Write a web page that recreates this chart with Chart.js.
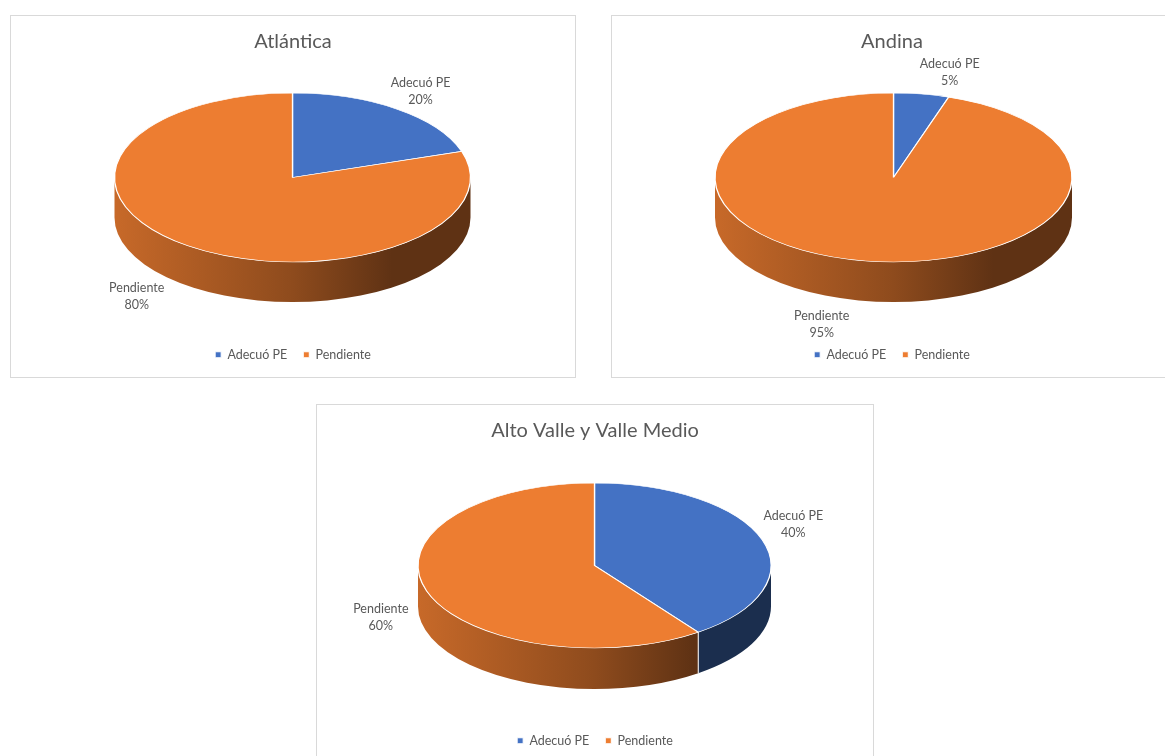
<!DOCTYPE html>
<html>
<head>
<meta charset="utf-8">
<script src="https://cdn.jsdelivr.net/npm/chart.js@4.4.0/dist/chart.umd.min.js"></script>
<style>
  html, body { margin: 0; padding: 0; background: #fff; overflow: hidden; width: 1165px; height: 756px; }
  .box { position: absolute; border: 1px solid #d9d9d9; background: #fff; }
  .box canvas { display: block; }
</style>
</head>
<body>
<div class="box" style="left:10px;top:15px;"><canvas id="chartAtlantica" width="564" height="361"></canvas></div>
<div class="box" style="left:611px;top:15px;"><canvas id="chartAndina" width="560" height="361"></canvas></div>
<div class="box" style="left:316px;top:404px;"><canvas id="chartAltoValle" width="556" height="360"></canvas></div>

<script>
const categories      = ['Adecuó PE', 'Pendiente'];
const sliceColors     = ['#4472C4', '#ED7D31'];
const atlanticaValues = [20, 80];
const andinaValues    = [5, 95];
const altoValleValues = [40, 60];

const FONT = 'Lato, "Open Sans", sans-serif';
const GREY = '#595959';

function shade(hex, f) {
  const n = parseInt(hex.slice(1), 16);
  const r = Math.round(((n >> 16) & 255) * f);
  const g = Math.round(((n >> 8) & 255) * f);
  const b = Math.round((n & 255) * f);
  return `rgb(${r},${g},${b})`;
}

// fake 3D: squash the pie into an ellipse and draw a side wall under the front half
const pie3d = {
  id: 'pie3d',
  beforeDatasetsDraw(chart, args, opts) {
    const ctx  = chart.ctx;
    const arcs = chart.getDatasetMeta(0).data;
    chart._pie3dSaved = false;
    if (!arcs.length) return;
    const { cx, cy, rx, ry, depth } = opts;
    const colors = chart.data.datasets[0].backgroundColor;

    arcs.forEach((arc, i) => {
      const a0 = Math.max(arc.startAngle, 0);
      const a1 = Math.min(arc.endAngle, Math.PI);
      if (a1 <= a0) return;
      ctx.save();
      ctx.beginPath();
      ctx.ellipse(cx, cy, rx, ry, 0, a0, a1);
      ctx.ellipse(cx, cy + depth, rx, ry, 0, a1, a0, true);
      ctx.closePath();
      const g = ctx.createLinearGradient(cx - rx, 0, cx + rx, 0);
      g.addColorStop(0,    shade(colors[i], 0.84));
      g.addColorStop(0.5,  shade(colors[i], 0.6));
      g.addColorStop(0.78, shade(colors[i], 0.4));
      g.addColorStop(1,    shade(colors[i], 0.4));
      ctx.fillStyle = g;
      ctx.fill();
      ctx.restore();
    });

    // white seams where slices meet on the wall
    arcs.forEach(arc => {
      const a = arc.startAngle;
      if (a > 0 && a < Math.PI) {
        const x = cx + rx * Math.cos(a), y = cy + ry * Math.sin(a);
        ctx.save();
        ctx.strokeStyle = '#fff';
        ctx.lineWidth = 1;
        ctx.beginPath();
        ctx.moveTo(x, y);
        ctx.lineTo(x, y + depth);
        ctx.stroke();
        ctx.restore();
      }
    });

    const R = arcs[0].outerRadius, x0 = arcs[0].x, y0 = arcs[0].y;
    ctx.save();
    ctx.translate(cx, cy);
    ctx.scale(rx / R, ry / R);
    ctx.translate(-x0, -y0);
    chart._pie3dSaved = true;
  },
  afterDatasetsDraw(chart) {
    if (chart._pie3dSaved) chart.ctx.restore();
    chart._pie3dSaved = false;
  }
};

const sliceLabels = {
  id: 'sliceLabels',
  afterDraw(chart, args, opts) {
    const ctx  = chart.ctx;
    const arcs = chart.getDatasetMeta(0).data;
    const { cx, cy, rx, ry, depth } = chart.options.plugins.pie3d;
    const values = chart.data.datasets[0].data;
    const total  = values.reduce((s, v) => s + v, 0);
    ctx.save();
    ctx.font = `12.5px ${FONT}`;
    ctx.fillStyle = GREY;
    ctx.textAlign = 'center';
    ctx.textBaseline = 'middle';
    arcs.forEach((arc, i) => {
      const mid = (arc.startAngle + arc.endAngle) / 2;
      const sx = Math.cos(mid), sy = Math.sin(mid);
      const name = chart.data.labels[i];
      const pct  = Math.round(values[i] / total * 100) + '%';
      const w = Math.max(ctx.measureText(name).width, ctx.measureText(pct).width);
      const h = 32;
      const ax = cx + (rx + 10) * sx;
      const ay = cy + (ry + 10) * sy + (sy > 0 ? depth : 0);
      const nudge = opts.nudge[i] || [0, 0];
      const tx = ax + sx * w / 2 + nudge[0];
      const ty = ay + sy * h / 2 + nudge[1];
      ctx.fillText(name, tx, ty - 8.5);
      ctx.fillText(pct,  tx, ty + 8.5);
    });
    ctx.restore();
  }
};

function makePie(id, title, values, geom, nudge, bottomPad) {
  return new Chart(document.getElementById(id), {
    type: 'pie',
    data: {
      labels: categories,
      datasets: [{
        data: values,
        backgroundColor: sliceColors,
        borderColor: '#ffffff',
        borderWidth: 1,
        clip: false,
      }]
    },
    options: {
      responsive: false,
      animation: false,
      events: [],
      layout: { padding: { top: 0, bottom: bottomPad } },
      plugins: {
        title: {
          display: true,
          text: title,
          color: GREY,
          font: { family: FONT, size: 20, weight: 'normal' },
          padding: { top: 14, bottom: 10 }
        },
        legend: {
          position: 'bottom',
          labels: {
            color: GREY,
            font: { family: FONT, size: 12.5 },
            boxWidth: 6,
            boxHeight: 6,
            padding: 16
          }
        },
        tooltip: { enabled: false },
        pie3d: geom,
        sliceLabels: { nudge }
      }
    },
    plugins: [pie3d, sliceLabels]
  });
}

makePie('chartAtlantica', 'Atlántica', atlanticaValues,
  { cx: 281.5, cy: 161.5, rx: 178, ry: 84.5, depth: 40 },
  [[0, 3], [-29, -10]], 6);
makePie('chartAndina', 'Andina', andinaValues,
  { cx: 281.5, cy: 161.5, rx: 178.5, ry: 84.5, depth: 40 },
  [[22, 4], [-38, -2]], 6);
makePie('chartAltoValle', 'Alto Valle y Valle Medio', altoValleValues,
  { cx: 277.5, cy: 160.5, rx: 176.5, ry: 82.5, depth: 41 },
  [[-7, -8], [-10, -23]], 8);
</script>
</body>
</html>
